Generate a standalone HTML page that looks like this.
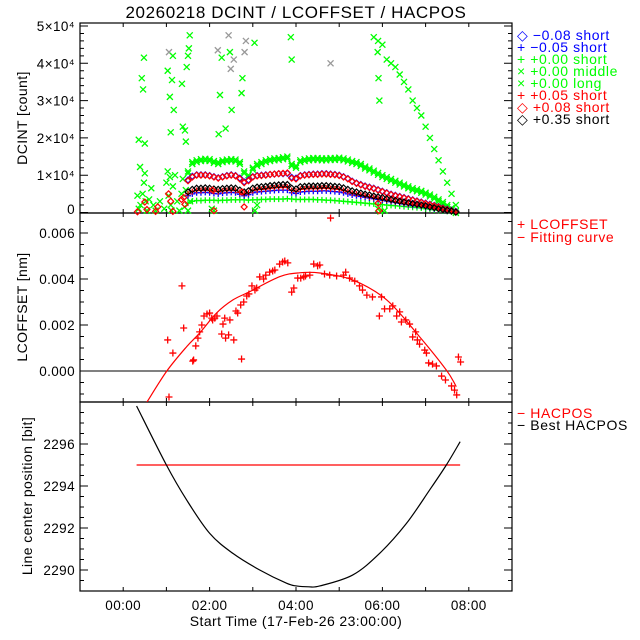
<!DOCTYPE html>
<html><head><meta charset="utf-8"><style>
html,body{margin:0;padding:0;background:#fff;}
svg{display:block;font-family:"Liberation Sans",sans-serif;}
</style></head><body>
<svg id="chart" width="640" height="640" viewBox="0 0 640 640">
<rect width="640" height="640" fill="#fff"/>
<text x="296" y="18" font-size="17" letter-spacing="0.6" text-anchor="middle">20260218 DCINT / LCOFFSET / HACPOS</text>
<g id="axes"></g>
<g id="marks"></g>
<g font-size="14" letter-spacing="0.6">
 <text x="517" y="40" fill="#0000ff">◇  −0.08 short</text>
 <text x="517" y="52" fill="#0000ff">+  −0.05 short</text>
 <text x="517" y="64" fill="#00ff00">+  +0.00 short</text>
 <text x="517" y="76" fill="#00ff00">×  +0.00 middle</text>
 <text x="517" y="88" fill="#00ff00">×  +0.00 long</text>
 <text x="517" y="100" fill="#ff0000">+  +0.05 short</text>
 <text x="517" y="112" fill="#ff0000">◇  +0.08 short</text>
 <text x="517" y="124" fill="#000">◇  +0.35 short</text>
</g>
<g font-size="14" letter-spacing="0.6" fill="#ff0000">
 <text x="517" y="229">+  LCOFFSET</text>
 <text x="517" y="242">−  Fitting curve</text>
</g>
<g font-size="14" letter-spacing="0.6">
 <text x="517" y="418" fill="#ff0000">−  HACPOS</text>
 <text x="517" y="430" fill="#000">−  Best HACPOS</text>
</g>
<text transform="translate(27,118) rotate(-90)" font-size="14" letter-spacing="0.4" text-anchor="middle">DCINT [count]</text>
<text transform="translate(27,307) rotate(-90)" font-size="14" letter-spacing="0.4" text-anchor="middle">LCOFFSET [nm]</text>
<text transform="translate(32,496) rotate(-90)" font-size="14" letter-spacing="0.4" text-anchor="middle">Line center position [bit]</text>
<text x="296" y="626" font-size="14" letter-spacing="0.4" text-anchor="middle">Start Time (17-Feb-26 23:00:00)</text>
</svg>
<script>
// ---- data ----
const bandT=[1.5,1.6,1.7,1.8,1.9,2.0,2.1,2.2,2.3,2.4,2.5,2.6,2.7,2.8,2.9,3.0,3.1,3.2,3.3,3.4,3.5,3.6,3.7,3.8,3.9,4.0,4.1,4.2,4.3,4.4,4.5,4.6,4.7,4.8,4.9,5.0,5.1,5.2,5.3,5.4,5.5,5.6,5.7,5.8,5.9,6.0,6.1,6.2,6.3,6.4,6.5,6.6,6.7,6.8,6.9,7.0,7.1,7.2,7.3,7.4,7.5,7.6,7.7];
const middleV=[11,13.5,14,14.3,14.4,14.3,13.8,13.5,14,14.2,14.3,14.2,13.5,11,10,12,13,13.5,14,14.3,14.5,14.6,14.8,15,13,12.5,14,14.3,14.5,14.6,14.6,14.5,14.5,14.6,14.6,14.7,14.5,14.2,13.8,13.5,13,12.3,11.8,11.2,10.6,10,9.5,9,8.5,8,7.5,7,6.5,6.2,5.8,5.3,4.8,4.2,3.5,2.8,2,1.2,0.4];
const shortGreenV=[2.5,3,3.2,3.2,3.3,3.3,3.3,3.2,3.3,3.3,3.4,3.4,3.4,3.4,3.3,3.4,3.4,3.5,3.5,3.6,3.6,3.6,3.6,3.7,3.6,3.5,3.5,3.5,3.5,3.5,3.4,3.4,3.3,3.3,3.2,3.1,3.0,2.9,2.8,2.7,2.6,2.5,2.4,2.3,2.2,2.1,2.0,1.9,1.8,1.7,1.6,1.5,1.4,1.3,1.2,1.0,0.9,0.7,0.6,0.4,0.3,0.2,0.1];
const diaRedV=[8.5,9.5,10,10,10,9.8,9.5,9.2,9.5,9.8,10,9.8,9,8,8.5,9.5,9.8,9.9,10,10.2,10.3,10.4,10.5,10.6,9.2,9,9.8,10,10.1,10.2,10.2,10.3,10.3,10.2,10.1,9.9,9.5,9,8.3,7.8,7.4,7.0,6.7,6.4,6.0,5.6,5.2,4.8,4.5,4.2,3.9,3.6,3.3,3.0,2.7,2.4,2.1,1.8,1.5,1.1,0.8,0.5,0.2];
const diaBlueV=[8.7,9.7,10.1,10.1,10.1,9.9,9.6,9.3,9.6,9.9,10.1,9.9,9.2,8.2,8.7,9.6,9.9,10,10.1,10.2,10.3,10.4,10.4,10.5,9.4,9.2,9.9,10.1,10.2,10.3,10.3,10.4,10.4,10.3,10.2,10,9.6,9.1,8.4,7.9,7.5,7.1,6.8,6.5,6.1,5.7,5.3,4.9,4.6,4.3,4.0,3.7,3.4,3.1,2.8,2.5,2.2,1.9,1.6,1.2,0.9,0.6,0.3];
const diaBlackV=[5.5,6.2,6.5,6.5,6.6,6.5,6.3,6.2,6.4,6.5,6.6,6.5,6,5.5,5.8,6.5,6.8,6.9,7,7.2,7.3,7.4,7.5,7.5,6.5,6.3,6.9,7,7.1,7.1,7.1,7.2,7.2,7.1,7.0,6.9,6.6,6.2,5.8,5.5,5.2,4.9,4.7,4.4,4.2,4.0,3.7,3.5,3.2,3.0,2.8,2.6,2.4,2.2,2.0,1.8,1.5,1.3,1.0,0.8,0.6,0.4,0.1];
const plusBlueV=[4.5,5,5.3,5.3,5.4,5.3,5.1,5,5.2,5.3,5.4,5.3,4.9,4.5,4.8,5.3,5.5,5.6,5.7,5.8,5.9,6,6,6,5.3,5.1,5.5,5.6,5.7,5.7,5.7,5.8,5.8,5.7,5.6,5.5,5.3,5,4.7,4.5,4.3,4.1,3.9,3.7,3.5,3.3,3.1,2.9,2.7,2.5,2.3,2.1,1.9,1.8,1.6,1.4,1.2,1.0,0.8,0.6,0.4,0.3,0.1];
const plusRedV=[5,5.6,5.9,5.9,6,5.9,5.7,5.6,5.8,5.9,6,5.9,5.4,5,5.3,5.9,6.1,6.2,6.3,6.5,6.6,6.7,6.7,6.8,5.9,5.7,6.2,6.3,6.4,6.4,6.4,6.5,6.5,6.4,6.3,6.2,5.9,5.6,5.2,5,4.7,4.5,4.2,4,3.8,3.6,3.4,3.2,2.9,2.7,2.5,2.3,2.2,2,1.8,1.6,1.4,1.2,0.9,0.7,0.5,0.3,0.1];
const longT=[5.8,5.9,6.0,6.1,6.2,6.3,6.4,6.5,6.6,6.7,6.8,6.9,7.0,7.1,7.2,7.3,7.4,7.5,7.6,7.7];
const longV=[47,46,45,41,40,39,37,35,33,30,28,26,23,20,17,14,11,8,5,2];
const outT=[0.36,0.39,0.43,0.46,0.48,0.50,1.03,1.06,1.08,1.10,1.13,1.15,1.17,1.36,1.38,1.43,1.45,1.47,1.50,1.52,1.54,2.19,2.21,2.24,2.28,2.37,2.44,2.47,2.49,2.51,2.56,2.74,2.76,2.81,2.84,3.04,3.88,3.90,4.80,5.89,5.91,5.93];
const outV=[19.5,12.2,36,33,41.5,18.5,38,43,31,21.5,35.5,42,27.5,34.5,23,22,19,39,42,44,47.5,43.5,21,31.5,41.5,22.5,47.5,43,38.5,27.5,41,32,36,43,46,45.5,47,41,40,43,36,30];
const outGray=[0,0,0,0,0,0,0,1,0,0,0,0,0,0,0,0,0,0,0,0,0,1,0,0,0,0,1,0,1,0,1,0,0,1,1,0,0,0,1,0,0,0];
const clutT=[0.33,0.36,0.4,0.45,0.48,0.5,0.52,0.55,0.6,0.65,0.7,0.75,0.85,0.95,1.0,1.03,1.05,1.08,1.1,1.12,1.15,1.2,1.25,1.3,1.35,1.38,1.42,1.45,1.5,1.55,2.05,2.1,3.05,3.1,5.9,5.95,6.05];
const clutV=[4.5,1,2,5,8,10.5,3,0.5,3.5,6.5,2,0.5,3,1,8,11,4.5,9.5,2,0.5,7,10,3,0.5,5,9,1.5,6,0.5,3,1,0.5,0.5,2,1,0.3,0.5];
const earlyT=[0.33,0.5,0.55,0.75,0.8,1.05,1.1,1.15,1.35,1.4,1.43,2.07,2.1,2.75,2.8,5.9,5.92];
const earlyV=[0.2,2.8,0.8,0.3,1.5,5,3,0.3,3.5,4,2.2,6,0.5,5.5,1.5,2.5,0.5];
const lcT=[1.03,1.15,1.06,1.36,1.40,1.61,1.63,1.68,1.73,1.77,1.82,1.87,1.94,2.00,2.05,2.07,2.12,2.17,2.28,2.31,2.35,2.37,2.44,2.47,2.56,2.61,2.65,2.72,2.74,2.79,2.86,2.91,2.98,3.05,3.09,3.16,3.25,3.30,3.39,3.46,3.51,3.62,3.69,3.74,3.81,3.90,3.95,4.04,4.11,4.18,4.22,4.32,4.41,4.50,4.55,4.66,4.78,4.94,5.10,5.15,5.24,5.36,5.47,5.54,5.64,5.77,5.98,5.93,6.05,6.17,6.24,6.33,6.40,6.44,6.54,6.63,6.70,6.77,6.81,6.86,6.98,7.02,7.07,7.16,7.25,7.37,7.46,7.60,7.67,7.72,7.81,7.76,4.80];
const lcV=[1.35,0.78,-1.13,3.70,1.87,0.43,0.48,1.09,1.43,1.70,2.00,2.39,2.48,2.52,2.30,2.22,2.30,2.39,1.61,2.04,2.30,1.43,1.57,2.22,1.35,2.61,2.52,2.87,0.52,3.00,3.26,3.35,3.70,3.52,3.61,4.09,4.00,4.17,4.30,4.35,4.39,4.65,4.74,4.78,4.70,3.43,3.61,4.04,4.04,4.09,4.13,4.17,4.65,4.57,4.61,4.22,4.17,4.13,4.17,4.30,4.04,3.91,3.70,3.52,3.30,3.22,3.22,2.39,2.70,2.70,2.83,2.39,2.57,2.13,2.22,2.04,1.48,1.70,1.35,1.17,0.91,0.78,0.35,0.30,0.22,-0.22,-0.39,-0.65,-0.83,-1.04,0.39,0.61,6.65];
const fitT=[0.55,1.01,1.47,1.77,2.16,2.54,2.93,3.62,4.08,4.55,5.31,6.1,6.86,7.48,7.71];
const fitV=[-1.35,0,1.06,1.65,2.52,3.09,3.45,4.1,4.27,4.26,3.96,3.09,1.49,0.04,-0.68];
const bestT=[0.31,1.0,1.47,2.0,2.54,3.16,3.78,4.01,4.3,4.55,5.31,5.94,6.55,7.09,7.48,7.8];
const bestV=[2297.81,2295.0,2293.33,2291.75,2290.79,2290.0,2289.37,2289.24,2289.2,2289.24,2289.76,2290.8,2292.2,2293.8,2295.0,2296.11];
const hacT=[0.31,7.8];
const hacV=[2295,2295];
const xTickHours=[0,2,4,6,8];
const xTickLabels=["00:00","02:00","04:00","06:00","08:00"];
const topTicks=[0,1,2,3,4,5];
const topTickLabels=["0","1×10⁴","2×10⁴","3×10⁴","4×10⁴","5×10⁴"];
const midTicks=[0,2,4,6];
const midTickLabels=["0.000","0.002","0.004","0.006"];
const botTicks=[2290,2292,2294,2296];
const botTickLabels=["2290","2292","2294","2296"];

// ---- scales ----
const PL=80,PR=512;
const xs=t=>PL+(t+1)*43.2;
const y1=v=>212.5-v*3.73;
const y2=v=>371-v*23;
const y3=v=>570-(v-2290)*21;
const NS="http://www.w3.org/2000/svg";
const axes=document.getElementById('axes'), marks=document.getElementById('marks');
function mk(tag,attrs,parent){const e=document.createElementNS(NS,tag);for(const k in attrs)e.setAttribute(k,attrs[k]);parent.appendChild(e);return e;}
const panels=[[23,213],[213,402],[402,591]];
panels.forEach(p=>{
  const r=mk('rect',{x:PL,y:p[0],width:PR-PL,height:p[1]-p[0],fill:'none',stroke:'#000','stroke-width':1.2},axes);
  
  
  for(let h=-1;h<=9;h++){
    const tk=mk('path',{d:`M${xs(h)},${p[1]}v-4M${xs(h)},${p[0]}v4`,stroke:'#000','stroke-width':1},axes);
    
    
  }
});
xTickHours.forEach((h,i)=>{
  const t=mk('text',{x:xs(h),y:610,'font-size':13.5,'letter-spacing':0.4,'text-anchor':'middle'},axes);t.textContent=xTickLabels[i];
  
  
});
function yAxis(lo,hi,step,minor,scale,top,bot,majors,labels){
  for(let v=lo;v<=hi+1e-9;v+=minor){
    const y=scale(v); if(y<top-0.1||y>bot+0.1)continue;
    const isMaj=Math.abs(v/step-Math.round(v/step))<1e-6;
    const L=isMaj?8:4;
    const tk=mk('path',{d:`M${PL},${y}h${L}M${PR},${y}h${-L}`,stroke:'#000','stroke-width':1},axes);
    
    
  }
  majors.forEach((v,i)=>{
    let y=scale(v); y=Math.min(y,bot-4);
    const t=mk('text',{x:75,y:y+5,'font-size':13.5,'letter-spacing':0.4,'text-anchor':'end'},axes);t.textContent=labels[i];
    
    
  });
}
yAxis(0,50,10,2,y1,23,213,topTicks.map(v=>v*10),topTickLabels);
yAxis(-1.5,7,2,0.5,y2,213,402,midTicks,midTickLabels);
yAxis(2289,2298,2,0.5,y3,402,591,botTicks,botTickLabels);
const zl=mk('line',{x1:PL,x2:PR,y1:y2(0),y2:y2(0),stroke:'#000','stroke-width':1},axes);



// ---- markers ----
function plus(x,y,c,s){return mk('path',{d:`M${x-s},${y}h${2*s}M${x},${y-s}v${2*s}`,stroke:c,'stroke-width':1.3,fill:'none'},marks);}
function cross(x,y,c,s){return mk('path',{d:`M${x-s},${y-s}l${2*s},${2*s}M${x-s},${y+s}l${2*s},${-2*s}`,stroke:c,'stroke-width':1.3,fill:'none'},marks);}
function dia(x,y,c,s){return mk('path',{d:`M${x},${y-s}l${s},${s}l${-s},${s}l${-s},${-s}z`,stroke:c,'stroke-width':1.2,fill:'none'},marks);}
function series(T,V,fn,c,name,s){T.forEach((t,i)=>{const e=fn(xs(t),y1(V[i]),c,s);
  
  });}
series(clutT,clutV,cross,'#00ff00','clutter-point',3);
series(bandT,shortGreenV,plus,'#00ff00','short-000-point',3);
series(bandT,middleV,cross,'#00ff00','middle-000-point',3);
series(bandT,middleV.map(v=>v-0.5),cross,'#00ff00','middle-000-point',3);
series(bandT,diaBlueV,dia,'#0000ff','short-m008-point',3);
series(bandT,diaRedV,dia,'#ff0000','short-p008-point',3);
series(bandT,plusBlueV,plus,'#0000ff','short-m005-point',3);
series(bandT,plusRedV,plus,'#ff0000','short-p005-point',3);
series(bandT,diaBlackV,dia,'#000000','short-p035-point',3);
series(earlyT,earlyV,dia,'#ff0000','early-point',3);
series(longT,longV,cross,'#00ff00','long-000-point',3);
outT.forEach((t,i)=>{const e=cross(xs(t),y1(outV[i]),outGray[i]?'#999999':'#00ff00',3);
  
  });
lcT.forEach((t,i)=>{const e=plus(xs(t),y2(lcV[i]),'#ff0000',3.5);
  
  });
function line(T,V,sc,c,name,top,bot){
  const P=T.map((t,i)=>[xs(t),sc(V[i])]);
  let d=`M${P[0][0]},${P[0][1]}`;
  for(let i=0;i<P.length-1;i++){
    const p0=P[Math.max(0,i-1)],p1=P[i],p2=P[i+1],p3=P[Math.min(P.length-1,i+2)];
    const c1=[p1[0]+(p2[0]-p0[0])/6,p1[1]+(p2[1]-p0[1])/6];
    const c2=[p2[0]-(p3[0]-p1[0])/6,p2[1]-(p3[1]-p1[1])/6];
    d+=`C${c1[0]},${c1[1]} ${c2[0]},${c2[1]} ${p2[0]},${p2[1]}`;
  }
  const e=mk('path',{d:d,fill:'none',stroke:c,'stroke-width':1.2,'clip-path':'url(#clip'+name+')'},marks);
  const cp=mk('clipPath',{id:'clip'+name},marks);
  mk('rect',{x:PL,y:top,width:PR-PL,height:bot-top},cp);
  
  
}
line(fitT,fitV,y2,'#ff0000','fitting-curve',213,402);
line(hacT,hacV,y3,'#ff0000','hacpos-line',402,591);
line(bestT,bestV,y3,'#000000','best-hacpos-curve',402,591);
</script>
</body></html>
